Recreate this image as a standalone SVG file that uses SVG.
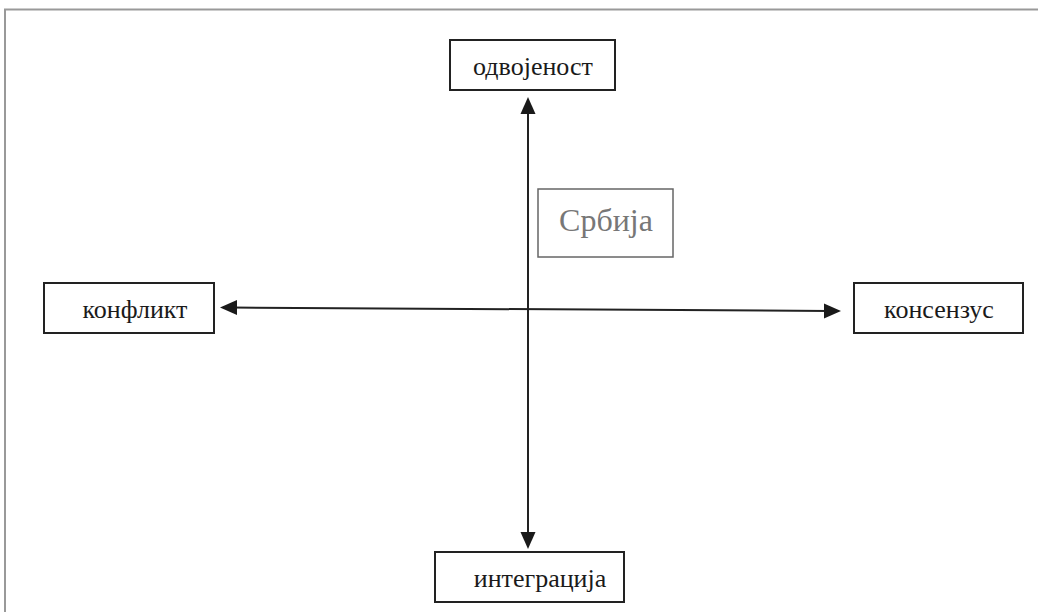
<svg xmlns="http://www.w3.org/2000/svg" width="1038" height="612" viewBox="0 0 1038 612">
<style>
.box{fill:#fff;stroke:#222;stroke-width:2}
.lbl{font-family:"Liberation Serif","Times New Roman","DejaVu Serif",serif;font-size:26px;fill:#1a1a1a;text-anchor:middle}
.conn{stroke:#222;stroke-width:2;fill:none}
.head{fill:#1a1a1a}
</style>
<rect width="1038" height="612" fill="#fff"/>
<path d="M5,612 V9.5 H1038" fill="none" stroke="#999" stroke-width="2"/>
<g id="connectors">
<line class="conn" x1="528" y1="108" x2="528" y2="538"/>
<path class="head" d="M528,97 L520.5,114 L535.5,114 z"/>
<path class="head" d="M528,549 L520.5,532 L535.5,532 z"/>
<line class="conn" x1="232" y1="307.5" x2="829" y2="311"/>
<path class="head" d="M220,307.5 L237,300 L237,315 z"/>
<path class="head" d="M841,311 L824,303.5 L824,318.5 z"/>
</g>
<g id="node-odvojenost">
<rect class="box" x="450" y="40" width="165" height="50"/>
<text class="lbl" x="533" y="75">одвојеност</text>
</g>
<g id="node-srbija">
<rect x="538" y="189" width="135" height="68" fill="#fff" stroke="#666" stroke-width="1.5"/>
<text x="606" y="231" font-family="'Liberation Serif','Times New Roman','DejaVu Serif',serif" font-size="32" fill="#777" text-anchor="middle">Србија</text>
</g>
<g id="node-konflikt">
<rect class="box" x="44" y="283" width="170" height="50"/>
<text class="lbl" x="135" y="318">конфликт</text>
</g>
<g id="node-konsenzus">
<rect class="box" x="854" y="283" width="169" height="50"/>
<text class="lbl" x="939" y="318">консензус</text>
</g>
<g id="node-integracija">
<rect class="box" x="435" y="552" width="189" height="50"/>
<text class="lbl" x="540" y="587">интеграција</text>
</g>
</svg>
